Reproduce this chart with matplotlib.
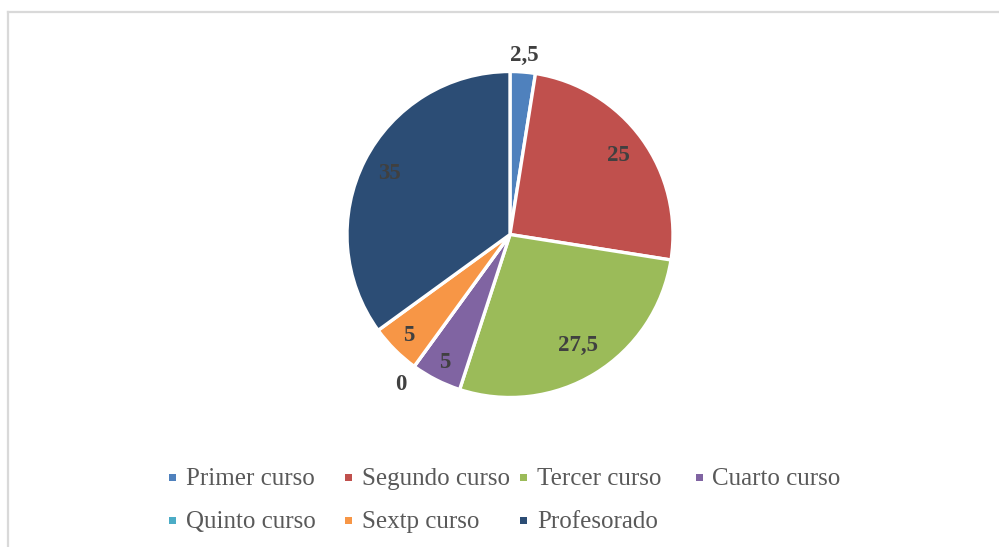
import matplotlib.pyplot as plt
import numpy as np
from matplotlib.lines import Line2D
from matplotlib.patches import Rectangle

categorias = ["Primer curso", "Segundo curso", "Tercer curso", "Cuarto curso",
              "Quinto curso", "Sextp curso", "Profesorado"]
valores = [2.5, 25, 27.5, 5, 0, 5, 35]
colores = ["#4F81BD", "#C0504D", "#9BBB59", "#8064A2",
           "#4BACC6", "#F79646", "#2C4D75"]

# distancia radial de cada etiqueta (fraccion del radio)
dist_etiquetas = [1.10, 0.82, 0.80, 0.88, 1.14, 0.88, 0.83]

plt.rcParams['font.family'] = ['Liberation Serif', 'DejaVu Serif']

W, H = 999, 547
fig = plt.figure(figsize=(W / 100, H / 100), dpi=100)
fig.patch.set_facecolor("white")

# marco gris (solo lados superior e izquierdo visibles)
fig.add_artist(Line2D([8 / W, 1.0], [1 - 12 / H, 1 - 12 / H], color="#D9D9D9", lw=1.6))
fig.add_artist(Line2D([8 / W, 8 / W], [0, 1 - 12 / H], color="#D9D9D9", lw=1.6))

cx, cy, r = 510, 234.5, 163
ax = fig.add_axes([(cx - r) / W, (H - cy - r) / H, 2 * r / W, 2 * r / H])
wedges, _ = ax.pie(valores, colors=colores, startangle=90, counterclock=False,
                   radius=1, wedgeprops=dict(edgecolor="white", linewidth=2.4))
ax.set_xlim(-1, 1)
ax.set_ylim(-1, 1)
ax.set_aspect("auto")
ax.axis("off")

for w, v, d in zip(wedges, valores, dist_etiquetas):
    ang = np.deg2rad((w.theta1 + w.theta2) / 2)
    txt = f"{v:g}".replace(".", ",")
    ax.text(d * np.cos(ang), d * np.sin(ang), txt, ha="center", va="center",
            fontsize=16.5, fontweight="bold", color="#404040", clip_on=False)

# leyenda en cuadricula de 4 columnas
x0, paso_x = 172.5, 175.5
base_y = [485, 528]
for i, (nombre, c) in enumerate(zip(categorias, colores)):
    col, fila = i % 4, i // 4
    mx = x0 + col * paso_x
    by = base_y[fila]
    fig.add_artist(Rectangle(((mx - 3.5) / W, 1 - (by - 4) / H), 7 / W, 7 / H,
                             transform=fig.transFigure, facecolor=c, edgecolor="none"))
    fig.text((mx + 13.5) / W, 1 - by / H, nombre, fontsize=18, color="#595959",
             ha="left", va="baseline")

fig.savefig("out.png", dpi=100)
